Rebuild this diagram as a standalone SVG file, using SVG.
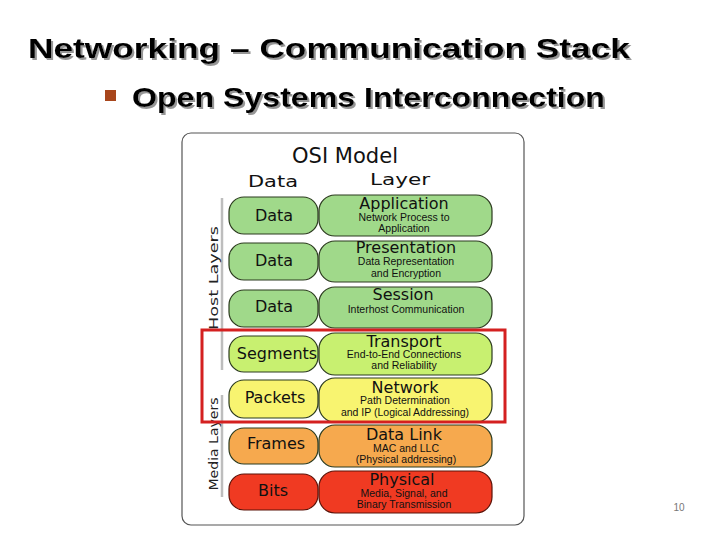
<svg xmlns="http://www.w3.org/2000/svg" width="728" height="546" viewBox="0 0 728 546">
<defs>
<filter id="sh" x="-5%" y="-20%" width="110%" height="150%">
<feDropShadow dx="2" dy="2" stdDeviation="0.6" flood-color="#8a8a8a" flood-opacity="0.9"/>
</filter>
</defs>
<style>
.title{font-family:"Liberation Sans",Arial,sans-serif;font-weight:bold;font-size:28px;fill:#000}
.hd{font-family:"DejaVu Sans",Verdana,sans-serif;fill:#111;text-anchor:middle}
.lt{font-family:"DejaVu Sans",Verdana,sans-serif;font-size:16px;fill:#111;text-anchor:middle}
.dl{font-family:"DejaVu Sans",Verdana,sans-serif;font-size:16px;fill:#111;text-anchor:middle}
.sub{font-family:"Liberation Sans",Arial,sans-serif;font-size:10.5px;fill:#111;text-anchor:middle}
.side{font-family:"DejaVu Sans",Verdana,sans-serif;font-size:12.5px;fill:#222;text-anchor:middle}
.box{stroke:#2b3a1e;stroke-width:1.2}
.g{fill:#a0d98a}.t{fill:#c8f070}.n{fill:#f8f470}.o{fill:#f6a94e}.r{fill:#f03a22;stroke:#5a1208}
</style>
<rect width="728" height="546" fill="#fff"/>
<g id="title" filter="url(#sh)">
<text class="title" x="28" y="58" textLength="602" lengthAdjust="spacingAndGlyphs">Networking – Communication Stack</text>
</g>
<g id="subtitle">
<rect x="105" y="90" width="11" height="11" fill="#a8461c"/>
<text class="title" x="132" y="107" textLength="473" lengthAdjust="spacingAndGlyphs" filter="url(#sh)">Open Systems Interconnection</text>
</g>
<g id="frame">
<rect x="182" y="133" width="342" height="392" rx="9" fill="#fff" stroke="#555" stroke-width="1.2"/>
<text class="hd" x="345" y="163" font-size="21" textLength="106" lengthAdjust="spacingAndGlyphs">OSI Model</text>
<text class="hd" x="273" y="187" font-size="15" textLength="50" lengthAdjust="spacingAndGlyphs">Data</text>
<text class="hd" x="400" y="185" font-size="16" textLength="60" lengthAdjust="spacingAndGlyphs">Layer</text>
<line x1="222" y1="198" x2="222" y2="370" stroke="#bdbdbd" stroke-width="2.5"/>
<line x1="222" y1="395" x2="222" y2="497" stroke="#bdbdbd" stroke-width="2.5"/>
<text class="side" transform="translate(218,278) rotate(-90)" textLength="104" lengthAdjust="spacingAndGlyphs">Host Layers</text>
<text class="side" transform="translate(218,444) rotate(-90)" textLength="93" lengthAdjust="spacingAndGlyphs">Media Layers</text>
</g>
<g id="connectors"></g>
<g id="application">
<rect class="box g" x="229" y="197" width="89" height="37" rx="15"/>
<rect class="box g" x="319" y="195" width="173" height="41" rx="16"/>
<text class="dl" x="274" y="221">Data</text>
<text class="lt" x="404" y="209">Application</text>
<text class="sub" x="404" y="221">Network Process to</text>
<text class="sub" x="404" y="231.5">Application</text>
</g>
<g id="presentation">
<rect class="box g" x="229" y="243" width="89" height="37" rx="15"/>
<rect class="box g" x="319" y="241" width="173" height="41" rx="16"/>
<text class="dl" x="274" y="266">Data</text>
<text class="lt" x="406" y="253">Presentation</text>
<text class="sub" x="406" y="265">Data Representation</text>
<text class="sub" x="406" y="276.5">and Encryption</text>
</g>
<g id="session">
<rect class="box g" x="229" y="290" width="89" height="37" rx="15"/>
<rect class="box g" x="319" y="287" width="173" height="41" rx="16"/>
<text class="dl" x="274" y="312">Data</text>
<text class="lt" x="403" y="300">Session</text>
<text class="sub" x="406" y="313">Interhost Communication</text>
</g>
<g id="transport">
<rect class="box t" x="229" y="336" width="89" height="36" rx="15"/>
<rect class="box t" x="319" y="333" width="173" height="42" rx="16"/>
<text class="dl" x="277" y="359">Segments</text>
<text class="lt" x="404" y="347">Transport</text>
<text class="sub" x="404" y="358">End-to-End Connections</text>
<text class="sub" x="404" y="368.5">and Reliability</text>
</g>
<g id="network">
<rect class="box n" x="229" y="380" width="89" height="38" rx="15"/>
<rect class="box n" x="319" y="378" width="173" height="44" rx="16"/>
<text class="dl" x="275" y="403">Packets</text>
<text class="lt" x="405" y="393">Network</text>
<text class="sub" x="405" y="404">Path Determination</text>
<text class="sub" x="405" y="415.5">and IP (Logical Addressing)</text>
</g>
<g id="datalink">
<rect class="box o" x="229" y="428" width="89" height="36" rx="15"/>
<rect class="box o" x="319" y="425" width="173" height="42" rx="16"/>
<text class="dl" x="276" y="449">Frames</text>
<text class="lt" x="404" y="440">Data Link</text>
<text class="sub" x="406" y="451.5" fill="#2a1400">MAC and LLC</text>
<text class="sub" x="406" y="463" fill="#2a1400">(Physical addressing)</text>
</g>
<g id="physical">
<rect class="box r" x="229" y="474" width="89" height="36" rx="15"/>
<rect class="box r" x="319" y="471" width="173" height="42" rx="16"/>
<text class="dl" x="273" y="496" fill="#5a0e04">Bits</text>
<text class="lt" x="402" y="485" fill="#4a0a02">Physical</text>
<text class="sub" x="404" y="497" fill="#5a0e04">Media, Signal, and</text>
<text class="sub" x="404" y="507.5" fill="#5a0e04">Binary Transmission</text>
</g>
<g id="highlight">
<rect x="202" y="330" width="303" height="92" fill="none" stroke="#d42020" stroke-width="3"/>
</g>
<text x="679" y="511" font-family="Liberation Sans, Arial, sans-serif" font-size="10" fill="#777" text-anchor="middle">10</text>
</svg>
